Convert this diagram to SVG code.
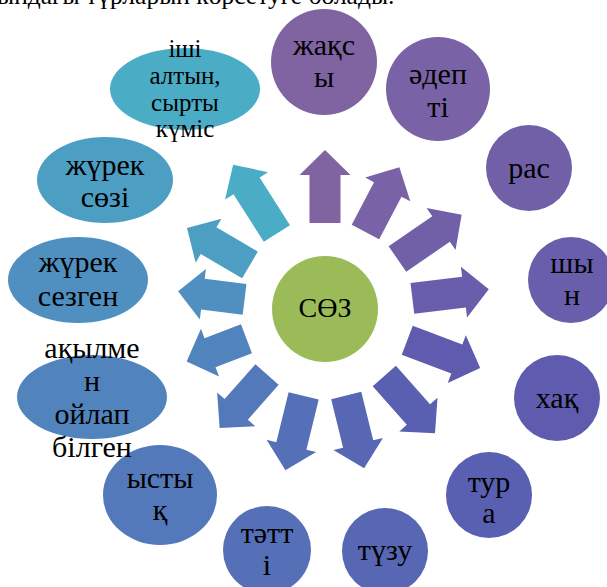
<svg xmlns="http://www.w3.org/2000/svg" width="607" height="587" viewBox="0 0 607 587">
<style>
.f{font-family:"Liberation Serif","Times New Roman",serif;fill:#000;text-anchor:middle}
.t{font-size:30px}
.s{font-size:25px}
</style>
<rect width="607" height="587" fill="#fff"/>
<text class="f" x="-3" y="4" font-size="25.5" style="text-anchor:start">ындағы түрларын көрсетуге болады.</text>
<g id="connectors">
<path fill="#8064A2" transform="translate(325,309) rotate(-90)" d="M86,-15.5H134V-25.5L159,0L134,25.5V15.5H86Z"/>
<path fill="#7962A5" transform="translate(325,309) rotate(-62.3)" d="M87,-15.5H135V-25.5L160,0L135,25.5V15.5H87Z"/>
<path fill="#7160A8" transform="translate(325,309) rotate(-34.6)" d="M88,-15.5H141V-25.5L166,0L141,25.5V15.5H88Z"/>
<path fill="#695EAB" transform="translate(325,309) rotate(-6.9)" d="M88,-15.5H140V-25.5L165,0L140,25.5V15.5H88Z"/>
<path fill="#5F5BAE" transform="translate(325,309) rotate(20.8)" d="M88,-15.5H141V-25.5L166,0L141,25.5V15.5H88Z"/>
<path fill="#595FB1" transform="translate(325,309) rotate(48.5)" d="M89.5,-15.5H141V-25.5L166,0L141,25.5V15.5H89.5Z"/>
<path fill="#5767B4" transform="translate(325,309) rotate(76.2)" d="M89,-15.5H139V-25.5L164,0L139,25.5V15.5H89Z"/>
<path fill="#5570B7" transform="translate(325,309) rotate(103.8)" d="M89.5,-15.5H141V-25.5L166,0L141,25.5V15.5H89.5Z"/>
<path fill="#5379BA" transform="translate(325,309) rotate(131.5)" d="M87.5,-15.5H134V-25.5L159,0L134,25.5V15.5H87.5Z"/>
<path fill="#5184BD" transform="translate(325,309) rotate(159.2)" d="M84,-15.5H123V-25.5L148,0L123,25.5V15.5H84Z"/>
<path fill="#4F90C0" transform="translate(325,309) rotate(186.9)" d="M81,-15.5H123V-25.5L148,0L123,25.5V15.5H81Z"/>
<path fill="#4D9EC3" transform="translate(325,309) rotate(210.4)" d="M87,-15.5H135V-25.5L160,0L135,25.5V15.5H87Z"/>
<path fill="#4BACC6" transform="translate(325,309) rotate(237.5)" d="M89.5,-15.5H146V-25.5L171,0L146,25.5V15.5H89.5Z"/>
</g>
<g id="center">
<circle cx="325" cy="309" r="53" fill="#9BBB59"/>
<text class="f" x="325" y="317" font-size="28">СӨЗ</text>
</g>
<g id="n0"><circle cx="324" cy="62" r="53" fill="#8064A2"/><text class="f t" x="324" y="55">жақс</text><text class="f t" x="324" y="87">ы</text></g>
<g id="n1"><circle cx="438" cy="89" r="52" fill="#7962A5"/><text class="f t" x="438" y="84">әдеп</text><text class="f t" x="438" y="117">ті</text></g>
<g id="n2"><circle cx="529" cy="168" r="43" fill="#7160A8"/><text class="f t" x="529" y="178">рас</text></g>
<g id="n3"><circle cx="571" cy="280" r="43" fill="#695EAB"/><text class="f t" x="572" y="273">шы</text><text class="f t" x="572" y="305">н</text></g>
<g id="n4"><circle cx="557" cy="398" r="43" fill="#5F5BAE"/><text class="f t" x="557" y="408">хақ</text></g>
<g id="n5"><circle cx="489" cy="495" r="43" fill="#595FB1"/><text class="f t" x="489" y="492">тур</text><text class="f t" x="489" y="523">а</text></g>
<g id="n6"><circle cx="385" cy="551" r="43" fill="#5767B4"/><text class="f t" x="385" y="560">түзу</text></g>
<g id="n7"><circle cx="267" cy="550" r="44" fill="#5570B7"/><text class="f t" x="267" y="543">тәтт</text><text class="f t" x="267" y="575">і</text></g>
<g id="n8"><ellipse cx="160" cy="495" rx="57" ry="50" fill="#5379BA"/><text class="f t" x="160" y="488">ысты</text><text class="f t" x="160" y="520">қ</text></g>
<g id="n9"><ellipse cx="92" cy="397" rx="75" ry="42" fill="#5184BD"/><text class="f t" x="92" y="358">ақылме</text><text class="f t" x="92" y="391">н</text><text class="f t" x="92" y="424">ойлап</text><text class="f t" x="92" y="457">білген</text></g>
<g id="n10"><ellipse cx="78" cy="280" rx="70" ry="43" fill="#4F90C0"/><text class="f t" x="78" y="272">жүрек</text><text class="f t" x="78" y="306">сезген</text></g>
<g id="n11"><ellipse cx="105" cy="180" rx="68" ry="43" fill="#4D9EC3"/><text class="f t" x="105" y="175">жүрек</text><text class="f t" x="105" y="207">сөзі</text></g>
<g id="n12"><ellipse cx="185" cy="89" rx="75" ry="41" fill="#4BACC6"/><text class="f s" x="185" y="57">іші</text><text class="f s" x="185" y="84">алтын,</text><text class="f s" x="185" y="111">сырты</text><text class="f s" x="185" y="137">күміс</text></g>
</svg>
